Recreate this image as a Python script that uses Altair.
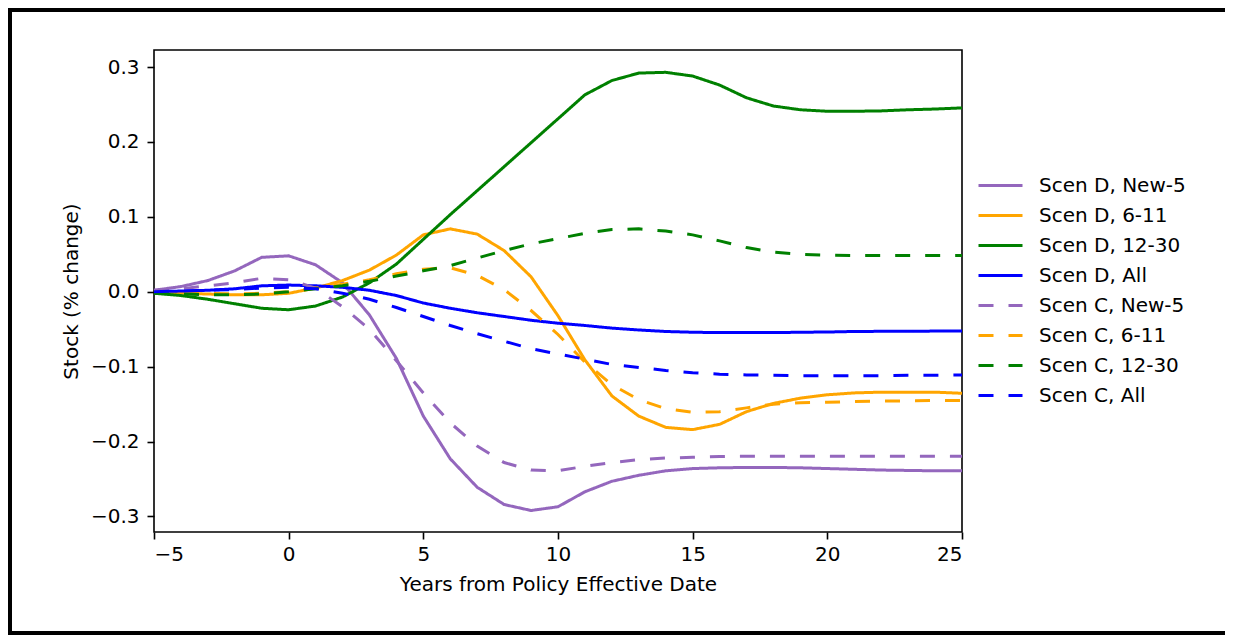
import altair as alt
import pandas as pd

years = list(range(-5, 26))

series_names = [
    "Scen D, New-5", "Scen D, 6-11", "Scen D, 12-30", "Scen D, All",
    "Scen C, New-5", "Scen C, 6-11", "Scen C, 12-30", "Scen C, All",
]
series_colors = ["#9467bd", "#ffa500", "#008000", "#0000ff",
                 "#9467bd", "#ffa500", "#008000", "#0000ff"]

d_new5 = [0.002, 0.007, 0.015, 0.028, 0.046, 0.048, 0.036, 0.012, -0.031, -0.089,
          -0.166, -0.223, -0.261, -0.284, -0.292, -0.287, -0.267, -0.253, -0.245, -0.239,
          -0.236, -0.235, -0.2345, -0.2345, -0.235, -0.236, -0.237, -0.238, -0.2385, -0.239, -0.239]
d_611 = [0.0, -0.002, -0.003, -0.004, -0.004, -0.002, 0.005, 0.015, 0.029, 0.049,
         0.076, 0.084, 0.077, 0.055, 0.020, -0.032, -0.091, -0.139, -0.166, -0.181,
         -0.184, -0.177, -0.160, -0.149, -0.142, -0.1375, -0.135, -0.134, -0.134, -0.134, -0.1355]
d_1230 = [-0.002, -0.005, -0.010, -0.016, -0.022, -0.024, -0.019, -0.007, 0.012, 0.037,
          0.070, 0.103, 0.135, 0.167, 0.199, 0.231, 0.263, 0.282, 0.292, 0.293,
          0.288, 0.276, 0.259, 0.248, 0.243, 0.241, 0.241, 0.2415, 0.243, 0.244, 0.2455]
d_all = [0.0, 0.001, 0.002, 0.004, 0.008, 0.009, 0.008, 0.006, 0.002, -0.005,
         -0.015, -0.022, -0.028, -0.033, -0.038, -0.042, -0.045, -0.0485, -0.051, -0.053,
         -0.054, -0.0545, -0.0545, -0.0545, -0.054, -0.0537, -0.053, -0.0528, -0.0526, -0.0525, -0.0524]
c_new5 = [0.002, 0.004, 0.008, 0.012, 0.018, 0.016, 0.005, -0.020, -0.050, -0.092,
          -0.135, -0.175, -0.206, -0.228, -0.238, -0.239, -0.233, -0.228, -0.224, -0.222,
          -0.221, -0.220, -0.2195, -0.2195, -0.2195, -0.2195, -0.2195, -0.2195, -0.2195, -0.2195, -0.2195]
c_611 = [0.0, -0.001, -0.002, -0.003, -0.002, 0.0, 0.005, 0.010, 0.016, 0.024,
         0.030, 0.032, 0.022, 0.003, -0.025, -0.057, -0.094, -0.124, -0.144, -0.156,
         -0.161, -0.160, -0.155, -0.150, -0.148, -0.1475, -0.1465, -0.146, -0.1455, -0.145, -0.145]
c_1230 = [-0.002, -0.003, -0.004, -0.004, -0.003, 0.0, 0.004, 0.008, 0.014, 0.021,
          0.028, 0.035, 0.045, 0.055, 0.064, 0.071, 0.078, 0.083, 0.084, 0.081,
          0.076, 0.068, 0.059, 0.053, 0.050, 0.049, 0.0485, 0.0485, 0.0485, 0.0485, 0.0485]
c_all = [0.0, 0.001, 0.002, 0.003, 0.005, 0.006, 0.004, -0.002, -0.010, -0.021,
         -0.033, -0.045, -0.056, -0.066, -0.076, -0.083, -0.090, -0.097, -0.101, -0.105,
         -0.108, -0.110, -0.111, -0.1115, -0.112, -0.112, -0.112, -0.112, -0.1115, -0.1115, -0.111]

x_ticks = [-5, 0, 5, 10, 15, 20, 25]
y_ticks = [-0.3, -0.2, -0.1, 0.0, 0.1, 0.2, 0.3]

all_values = [d_new5, d_611, d_1230, d_all, c_new5, c_611, c_1230, c_all]
rows = []
for order_idx, (name, vals) in enumerate(zip(series_names, all_values)):
    for yr, v in zip(years, vals):
        rows.append({"year": yr, "value": v, "series": name, "k": order_idx})
df = pd.DataFrame(rows)

FONT = "DejaVu Sans"

legend = alt.Legend(
    title=None,
    orient="none",
    legendX=823,
    legendY=123,
    symbolType="M-1,0H3",
    symbolSize=484,
    symbolStrokeWidth=3,
    labelFontSize=20,
    labelFont=FONT,
    labelColor="#000000",
    labelOffset=37,
    rowPadding=7,
)

lines = alt.Chart(df).mark_line(strokeWidth=3, strokeCap="butt").encode(
    x=alt.X("year:Q",
            scale=alt.Scale(domain=[-5, 25], nice=False, zero=False),
            axis=alt.Axis(values=x_ticks, format="d", title="Years from Policy Effective Date",
                          titleX=404, titleY=58, titleBaseline="alphabetic", titleAlign="center",
                          labelPadding=5)),
    y=alt.Y("value:Q",
            scale=alt.Scale(domain=[-0.3207, 0.3228], nice=False, zero=False),
            axis=alt.Axis(values=y_ticks, format=".1f", title="Stock (% change)",
                          titleX=-77, titleY=241, titleBaseline="alphabetic", titleAlign="center",
                          labelPadding=8)),
    color=alt.Color("series:N", scale=alt.Scale(domain=series_names, range=series_colors),
                    legend=legend),
    strokeDash=alt.StrokeDash("series:N",
                              scale=alt.Scale(domain=series_names,
                                              range=[[1, 0]] * 4 + [[15, 15]] * 4),
                              legend=legend),
    order=alt.Order("year:Q"),
    detail="k:O",
)

one = pd.DataFrame({"a": [0]})
frame_left = alt.Chart(one).mark_rule(stroke="#000000", strokeWidth=4, clip=False).encode(
    x=alt.value(-144), y=alt.value(-42), y2=alt.value(585)
)
frame_top = alt.Chart(one).mark_rule(stroke="#000000", strokeWidth=4, clip=False).encode(
    x=alt.value(-146), x2=alt.value(1100), y=alt.value(-40)
)
frame_bottom = alt.Chart(one).mark_rule(stroke="#000000", strokeWidth=4, clip=False).encode(
    x=alt.value(-146), x2=alt.value(1100), y=alt.value(583)
)

chart = alt.layer(frame_left, frame_top, frame_bottom, lines).properties(
    width=808,
    height=482,
    autosize=alt.AutoSizeParams(type="none"),
    padding={"left": 146, "top": 42, "right": 263, "bottom": 103},
    background="#ffffff",
).configure_view(
    stroke="#000000", strokeWidth=1.6
).configure_axis(
    domain=False,
    grid=False,
    ticks=True,
    tickSize=7,
    tickWidth=1.6,
    tickColor="#000000",
    labelFont=FONT,
    labelFontSize=20,
    labelColor="#000000",
    titleFont=FONT,
    titleFontSize=20,
    titleFontWeight="normal",
    titleColor="#000000",
)

chart.save("out.html", embed_options={"renderer": "svg", "actions": False})
